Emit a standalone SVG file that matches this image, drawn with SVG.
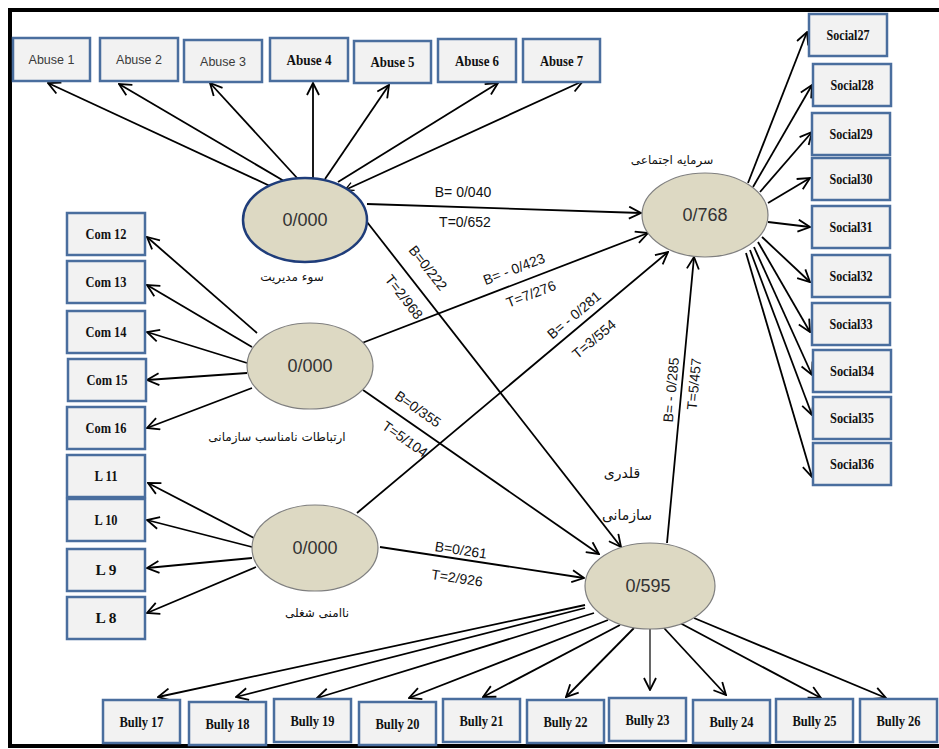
<svg xmlns="http://www.w3.org/2000/svg" width="939" height="749" viewBox="0 0 939 749">
<style>
.box{fill:#f2f2f2;stroke:#4a6e9e;stroke-width:2.5}
.bt{font-family:"Liberation Serif","Times New Roman",serif;font-weight:bold;font-size:15px;text-anchor:middle;fill:#111}
.st{font-family:"Liberation Sans",Arial,sans-serif;font-size:12.5px;fill:#3a3a3a;text-anchor:middle}
.ell{fill:#ddd9c3;stroke:#7f7f7f;stroke-width:1.2}
.num{font-family:"Liberation Sans",Arial,sans-serif;font-size:18px;fill:#333;text-anchor:middle}
.lbl{font-family:"Liberation Sans",Arial,sans-serif;font-size:14px;fill:#111;text-anchor:middle}
.fa{font-family:"DejaVu Sans","Noto Sans",sans-serif;font-size:12px;fill:#111;text-anchor:middle}
.conn line{stroke:#000;stroke-width:1.8;marker-end:url(#ah)}
</style>
<defs>
<marker id="ah" viewBox="0 0 14 14" refX="13" refY="7" markerWidth="14" markerHeight="14" markerUnits="userSpaceOnUse" orient="auto">
<path d="M1,1 L13,7 L1,13" fill="none" stroke="#000" stroke-width="1.8"/>
</marker>
<marker id="ahs" viewBox="0 0 14 14" refX="13" refY="7" markerWidth="10" markerHeight="10" markerUnits="userSpaceOnUse" orient="auto-start-reverse">
<path d="M1,1 L13,7 L1,13" fill="none" stroke="#000" stroke-width="1.8"/>
</marker>
</defs>
<rect x="0" y="0" width="939" height="749" fill="#fff"/>
<rect id="frame" x="10" y="10" width="940" height="736" fill="none" stroke="#000" stroke-width="4"/>

<g id="connectors" class="conn">
<line x1="270" y1="186" x2="48" y2="83"/>
<line x1="284" y1="181" x2="119" y2="84"/>
<line x1="298" y1="179" x2="210" y2="83"/>
<line x1="313" y1="178" x2="313" y2="83"/>
<line x1="325" y1="179" x2="389" y2="85"/>
<line x1="338" y1="182" x2="498" y2="83"/>
<line x1="345" y1="190" x2="583" y2="81" marker-start="url(#ahs)"/>
<line x1="257" y1="333" x2="147" y2="237"/>
<line x1="252" y1="347" x2="147" y2="285"/>
<line x1="247" y1="363" x2="147" y2="332"/>
<line x1="247" y1="373" x2="147" y2="380"/>
<line x1="252" y1="388" x2="147" y2="428"/>
<line x1="254" y1="538" x2="148" y2="483"/>
<line x1="252" y1="547" x2="147" y2="520"/>
<line x1="252" y1="558" x2="147" y2="568"/>
<line x1="256" y1="567" x2="147" y2="613"/>
<line x1="748" y1="183" x2="807" y2="32"/>
<line x1="753" y1="187" x2="812" y2="85"/>
<line x1="760" y1="192" x2="812" y2="132"/>
<line x1="768" y1="203" x2="810" y2="178"/>
<line x1="768" y1="222" x2="810" y2="227"/>
<line x1="762" y1="237" x2="810" y2="282"/>
<line x1="758" y1="242" x2="810" y2="332"/>
<line x1="754" y1="247" x2="812" y2="375"/>
<line x1="750" y1="250" x2="812" y2="415"/>
<line x1="746" y1="253" x2="812" y2="477"/>
<line x1="585" y1="605" x2="158" y2="697"/>
<line x1="585" y1="608" x2="236" y2="697"/>
<line x1="594" y1="613" x2="317" y2="698"/>
<line x1="608" y1="620" x2="409" y2="698"/>
<line x1="620" y1="625" x2="483" y2="697"/>
<line x1="634" y1="628" x2="566" y2="697"/>
<line x1="650" y1="629" x2="650" y2="690" style="stroke-width:1.2"/>
<line x1="664" y1="628" x2="726" y2="695"/>
<line x1="680" y1="623" x2="821" y2="698"/>
<line x1="694" y1="618" x2="886" y2="698"/>
<line x1="367" y1="204" x2="641" y2="213"/>
<line x1="362" y1="343" x2="648" y2="233"/>
<line x1="357" y1="513" x2="668" y2="252"/>
<line x1="367" y1="222" x2="621" y2="547"/>
<line x1="363" y1="390" x2="599" y2="554"/>
<line x1="380" y1="547" x2="584" y2="578"/>
<line x1="667" y1="543" x2="694" y2="257"/>
</g>

<g id="path-labels">
<text class="lbl" x="463" y="192" dy="0.35em">B= 0/040</text>
<text class="lbl" x="465" y="222" dy="0.35em">T=0/652</text>
<text class="lbl" x="514" y="269" dy="0.35em" transform="rotate(-21 514 269)">B= - 0/423</text>
<text class="lbl" x="531" y="294" dy="0.35em" transform="rotate(-21 531 294)">T=7/276</text>
<text class="lbl" x="574" y="315" dy="0.35em" transform="rotate(-40 574 315)">B= - 0/281</text>
<text class="lbl" x="594" y="339" dy="0.35em" transform="rotate(-40 594 339)">T=3/554</text>
<text class="lbl" x="428" y="268" dy="0.35em" transform="rotate(52 428 268)">B=0/222</text>
<text class="lbl" x="404" y="297" dy="0.35em" transform="rotate(52 404 297)">T=2/968</text>
<text class="lbl" x="418" y="409" dy="0.35em" transform="rotate(35 418 409)">B=0/355</text>
<text class="lbl" x="405" y="439" dy="0.35em" transform="rotate(35 405 439)">T=5/104</text>
<text class="lbl" x="461" y="550" dy="0.35em" transform="rotate(8.4 461 550)">B=0/261</text>
<text class="lbl" x="457" y="578" dy="0.35em" transform="rotate(8.4 457 578)">T=2/926</text>
<text class="lbl" x="671" y="390" dy="0.35em" transform="rotate(-84.6 671 390)">B= - 0/285</text>
<text class="lbl" x="694" y="384" dy="0.35em" transform="rotate(-84.6 694 384)">T=5/457</text>
</g>

<g id="mismanagement">
<ellipse cx="305" cy="220" rx="62" ry="42" class="ell" style="stroke:#1f3d7a;stroke-width:2.5"/>
<text class="num" x="305" y="226">0/000</text>
<text class="fa" x="292" y="281">سوء مدیریت</text>
</g>
<g id="communication">
<ellipse cx="310" cy="366" rx="63" ry="43" class="ell"/>
<text class="num" x="310" y="372">0/000</text>
<text class="fa" x="277" y="441">ارتباطات نامناسب سازمانی</text>
</g>
<g id="insecurity">
<ellipse cx="315" cy="548" rx="63" ry="43" class="ell"/>
<text class="num" x="315" y="554">0/000</text>
<text class="fa" x="317" y="617">ناامنی شغلی</text>
</g>
<g id="bullying">
<ellipse cx="650" cy="586" rx="65" ry="43" class="ell"/>
<text class="num" x="648" y="592">0/595</text>
<text class="fa" x="622" y="478" style="font-size:14px">قلدری</text>
<text class="fa" x="627" y="520" style="font-size:14px">سازمانی</text>
</g>
<g id="social-capital">
<ellipse cx="705" cy="215" rx="63" ry="42" class="ell"/>
<text class="num" x="705" y="221">0/768</text>
<text class="fa" x="672" y="164">سرمایه اجتماعی</text>
</g>

<g id="abuse1"><rect class="box" x="13" y="38" width="77" height="43"/><text class="st" x="51.5" y="64">Abuse 1</text></g>
<g id="abuse2"><rect class="box" x="100" y="38" width="78" height="43"/><text class="st" x="139" y="64">Abuse 2</text></g>
<g id="abuse3"><rect class="box" x="184" y="40" width="78" height="42"/><text class="st" x="223" y="66">Abuse 3</text></g>
<g id="abuse4"><rect class="box" x="270" y="38" width="78" height="43"/><text class="bt" x="309" y="64.5" textLength="45" lengthAdjust="spacingAndGlyphs">Abuse 4</text></g>
<g id="abuse5"><rect class="box" x="354" y="41" width="77" height="42"/><text class="bt" x="392.5" y="67" textLength="44" lengthAdjust="spacingAndGlyphs">Abuse 5</text></g>
<g id="abuse6"><rect class="box" x="438" y="39" width="78" height="43"/><text class="bt" x="477" y="65.5" textLength="44" lengthAdjust="spacingAndGlyphs">Abuse 6</text></g>
<g id="abuse7"><rect class="box" x="523" y="39" width="77" height="43"/><text class="bt" x="561.5" y="65.5" textLength="43" lengthAdjust="spacingAndGlyphs">Abuse 7</text></g>

<g id="com12"><rect class="box" x="67" y="213" width="78" height="42"/><text class="bt" x="106" y="239" textLength="41" lengthAdjust="spacingAndGlyphs">Com 12</text></g>
<g id="com13"><rect class="box" x="67" y="261" width="78" height="42"/><text class="bt" x="106" y="287" textLength="41" lengthAdjust="spacingAndGlyphs">Com 13</text></g>
<g id="com14"><rect class="box" x="67" y="311" width="78" height="42"/><text class="bt" x="106" y="337" textLength="41" lengthAdjust="spacingAndGlyphs">Com 14</text></g>
<g id="com15"><rect class="box" x="68" y="359" width="78" height="42"/><text class="bt" x="107" y="385" textLength="41" lengthAdjust="spacingAndGlyphs">Com 15</text></g>
<g id="com16"><rect class="box" x="67" y="407" width="78" height="42"/><text class="bt" x="106" y="433" textLength="41" lengthAdjust="spacingAndGlyphs">Com 16</text></g>
<g id="l11"><rect class="box" x="67" y="455" width="78" height="42"/><text class="bt" x="106" y="481" textLength="23" lengthAdjust="spacingAndGlyphs">L 11</text></g>
<g id="l10"><rect class="box" x="67" y="499" width="78" height="42"/><text class="bt" x="106" y="525" textLength="23" lengthAdjust="spacingAndGlyphs">L 10</text></g>
<g id="l9"><rect class="box" x="67" y="549" width="78" height="42"/><text class="bt" x="106" y="575" textLength="21" lengthAdjust="spacingAndGlyphs">L 9</text></g>
<g id="l8"><rect class="box" x="67" y="597" width="78" height="42"/><text class="bt" x="106" y="623" textLength="21" lengthAdjust="spacingAndGlyphs">L 8</text></g>

<g id="social27"><rect class="box" x="809" y="14" width="78" height="42"/><text class="bt" x="848" y="40" textLength="43" lengthAdjust="spacingAndGlyphs">Social27</text></g>
<g id="social28"><rect class="box" x="813" y="64" width="78" height="42"/><text class="bt" x="852" y="90" textLength="43" lengthAdjust="spacingAndGlyphs">Social28</text></g>
<g id="social29"><rect class="box" x="812" y="113" width="78" height="42"/><text class="bt" x="851" y="139" textLength="43" lengthAdjust="spacingAndGlyphs">Social29</text></g>
<g id="social30"><rect class="box" x="812" y="158" width="78" height="42"/><text class="bt" x="851" y="184" textLength="43" lengthAdjust="spacingAndGlyphs">Social30</text></g>
<g id="social31"><rect class="box" x="812" y="206" width="78" height="42"/><text class="bt" x="851" y="232" textLength="43" lengthAdjust="spacingAndGlyphs">Social31</text></g>
<g id="social32"><rect class="box" x="812" y="255" width="78" height="42"/><text class="bt" x="851" y="281" textLength="43" lengthAdjust="spacingAndGlyphs">Social32</text></g>
<g id="social33"><rect class="box" x="812" y="303" width="78" height="42"/><text class="bt" x="851" y="329" textLength="43" lengthAdjust="spacingAndGlyphs">Social33</text></g>
<g id="social34"><rect class="box" x="813" y="350" width="78" height="42"/><text class="bt" x="852" y="376" textLength="44" lengthAdjust="spacingAndGlyphs">Social34</text></g>
<g id="social35"><rect class="box" x="813" y="397" width="78" height="42"/><text class="bt" x="852" y="423" textLength="44" lengthAdjust="spacingAndGlyphs">Social35</text></g>
<g id="social36"><rect class="box" x="813" y="443" width="78" height="42"/><text class="bt" x="852" y="469" textLength="44" lengthAdjust="spacingAndGlyphs">Social36</text></g>

<g id="bully17"><rect class="box" x="103" y="700" width="77" height="43"/><text class="bt" x="141.5" y="727" textLength="44" lengthAdjust="spacingAndGlyphs">Bully 17</text></g>
<g id="bully18"><rect class="box" x="189" y="702" width="77" height="43"/><text class="bt" x="227.5" y="729" textLength="44" lengthAdjust="spacingAndGlyphs">Bully 18</text></g>
<g id="bully19"><rect class="box" x="274" y="699" width="77" height="43"/><text class="bt" x="312.5" y="726" textLength="44" lengthAdjust="spacingAndGlyphs">Bully 19</text></g>
<g id="bully20"><rect class="box" x="359" y="702" width="77" height="43"/><text class="bt" x="397.5" y="729" textLength="44" lengthAdjust="spacingAndGlyphs">Bully 20</text></g>
<g id="bully21"><rect class="box" x="443" y="699" width="77" height="43"/><text class="bt" x="481.5" y="726" textLength="44" lengthAdjust="spacingAndGlyphs">Bully 21</text></g>
<g id="bully22"><rect class="box" x="527" y="700" width="77" height="43"/><text class="bt" x="565.5" y="727" textLength="44" lengthAdjust="spacingAndGlyphs">Bully 22</text></g>
<g id="bully23"><rect class="box" x="609" y="698" width="77" height="43"/><text class="bt" x="647.5" y="725" textLength="44" lengthAdjust="spacingAndGlyphs">Bully 23</text></g>
<g id="bully24"><rect class="box" x="693" y="700" width="77" height="43"/><text class="bt" x="731.5" y="727" textLength="44" lengthAdjust="spacingAndGlyphs">Bully 24</text></g>
<g id="bully25"><rect class="box" x="776" y="699" width="77" height="43"/><text class="bt" x="814.5" y="726" textLength="44" lengthAdjust="spacingAndGlyphs">Bully 25</text></g>
<g id="bully26"><rect class="box" x="860" y="699" width="77" height="43"/><text class="bt" x="898.5" y="726" textLength="44" lengthAdjust="spacingAndGlyphs">Bully 26</text></g>
</svg>
